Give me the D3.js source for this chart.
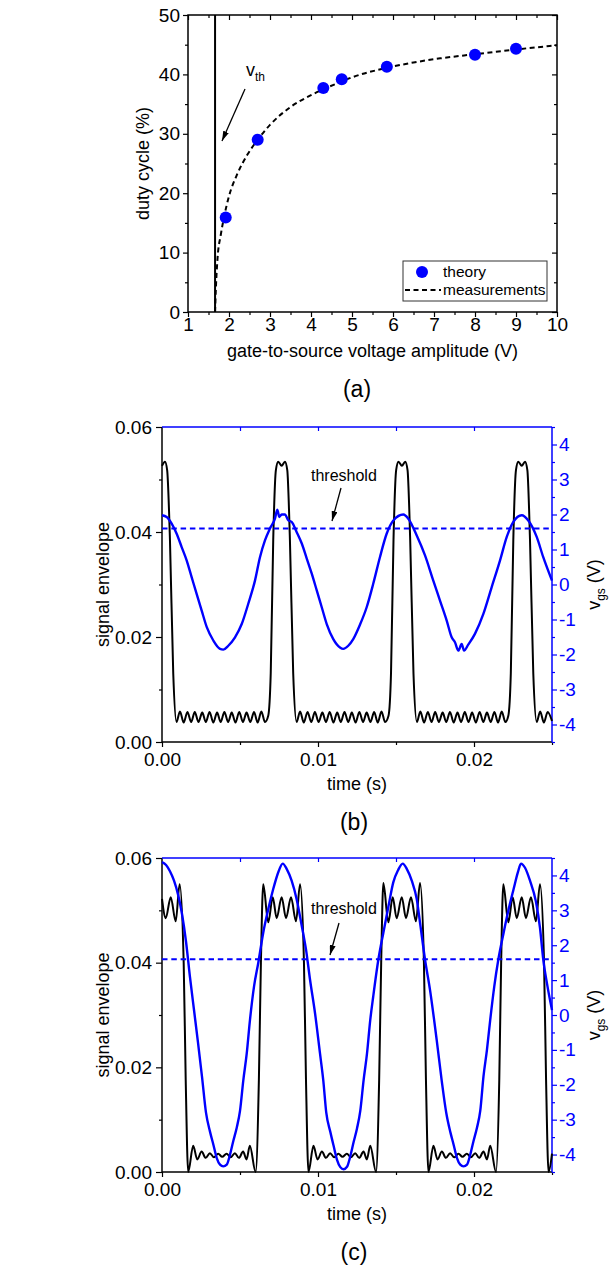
<!DOCTYPE html>
<html>
<head>
<meta charset="utf-8">
<script src="https://cdn.jsdelivr.net/npm/d3@7"></script>
<style>
  body { margin: 0; background: #fff; }
  svg { font-family: "Liberation Sans", Arial, sans-serif; }
</style>
</head>
<body>
<div class="chartHolder"></div>
<script>
// ---- panel (a) data ----
var theoryV = [1.92, 2.70, 4.30, 4.75, 5.85, 8.00, 9.00];
var theoryDuty = [15.9, 29.0, 37.7, 39.2, 41.3, 43.3, 44.3];
var measV = [1.66, 1.68, 1.72, 1.80, 1.88, 2.00, 2.20, 2.45, 2.70, 3.00, 3.50, 4.00, 4.30, 4.75, 5.00, 5.85, 6.50, 7.15, 8.00, 9.00, 10.00];
var measDuty = [0, 4.0, 9.0, 13.0, 16.0, 19.5, 23.2, 26.5, 29.0, 31.5, 34.5, 36.5, 37.5, 38.8, 39.5, 41.1, 42.0, 42.7, 43.4, 44.2, 44.9];
var vth = 1.66;
var ampTicks = [1, 2, 3, 4, 5, 6, 7, 8, 9, 10];
var dutyTicks = [0, 10, 20, 30, 40, 50];

// ---- panel (b) data ----
var envTimeB = [0, 0.00019, 0.00033, 0.00051, 0.00072, 0.00093,
  0.00115, 0.00139, 0.00163, 0.00187, 0.0021, 0.00234, 0.00258, 0.00281, 0.00305, 0.00329, 0.00353, 0.00376,
  0.004, 0.00424, 0.00447, 0.00471, 0.00495, 0.00519, 0.00542, 0.00566, 0.0059, 0.00613, 0.00637, 0.0066,
  0.00681, 0.00697, 0.00713, 0.0073, 0.00745, 0.00767, 0.00788, 0.00803, 0.0082, 0.00841, 0.00863,
  0.00885, 0.00909, 0.00933, 0.00957, 0.0098, 0.01004, 0.01028, 0.01051, 0.01075, 0.01099, 0.01123, 0.01146,
  0.0117, 0.01194, 0.01217, 0.01241, 0.01265, 0.01289, 0.01312, 0.01336, 0.0136, 0.01383, 0.01407, 0.0143,
  0.01452, 0.01468, 0.01484, 0.01501, 0.01516, 0.01538, 0.01559, 0.01574, 0.01591, 0.01612, 0.01634,
  0.01656, 0.0168, 0.01704, 0.01728, 0.01751, 0.01775, 0.01799, 0.01822, 0.01846, 0.0187, 0.01894, 0.01917,
  0.01941, 0.01965, 0.01988, 0.02012, 0.02036, 0.0206, 0.02083, 0.02107, 0.02131, 0.02154, 0.02178, 0.02201,
  0.0222, 0.02236, 0.02252, 0.02269, 0.02284, 0.02306, 0.02327, 0.02342, 0.02359, 0.0238, 0.02402,
  0.02424, 0.02448, 0.02472, 0.025];
var envB = [0.0526, 0.0534, 0.0518, 0.0385, 0.0131, 0.0038,
  0.0058, 0.0037, 0.0057, 0.0038, 0.0057, 0.0038, 0.0056, 0.0038, 0.0057, 0.0037, 0.0056, 0.0038,
  0.0057, 0.0038, 0.0056, 0.0037, 0.0057, 0.0038, 0.0056, 0.0038, 0.0057, 0.0037, 0.0058, 0.0038,
  0.0050, 0.0131, 0.0385, 0.0518, 0.0534, 0.0526, 0.0534, 0.0518, 0.0385, 0.0131, 0.0038,
  0.0058, 0.0037, 0.0057, 0.0038, 0.0057, 0.0038, 0.0056, 0.0038, 0.0057, 0.0037, 0.0056, 0.0038,
  0.0057, 0.0038, 0.0056, 0.0037, 0.0057, 0.0038, 0.0056, 0.0038, 0.0057, 0.0037, 0.0058, 0.0038,
  0.0050, 0.0131, 0.0385, 0.0518, 0.0534, 0.0526, 0.0534, 0.0518, 0.0385, 0.0131, 0.0038,
  0.0058, 0.0037, 0.0057, 0.0038, 0.0057, 0.0038, 0.0056, 0.0038, 0.0057, 0.0037, 0.0056, 0.0038,
  0.0057, 0.0038, 0.0056, 0.0037, 0.0057, 0.0038, 0.0056, 0.0038, 0.0057, 0.0037, 0.0058, 0.0038,
  0.0050, 0.0131, 0.0385, 0.0518, 0.0534, 0.0526, 0.0534, 0.0518, 0.0385, 0.0131, 0.0038,
  0.0058, 0.0037, 0.0057, 0.0040];
var vgsTimeB = [0, 0.0003, 0.00062, 0.00094, 0.00126, 0.00158, 0.0019, 0.00222, 0.00254, 0.00287, 0.00329,
  0.00372, 0.00393, 0.00425, 0.00468, 0.00511, 0.00553, 0.00596, 0.00628, 0.0066, 0.00692, 0.00724,
  0.00739, 0.00752, 0.00767, 0.00788, 0.0081, 0.00831, 0.00863, 0.00896, 0.00928, 0.0096, 0.00992,
  0.01024, 0.01056, 0.01098, 0.01141, 0.01162, 0.01194, 0.01226, 0.01269, 0.01312, 0.01354, 0.01397,
  0.0144, 0.01483, 0.01547, 0.01579, 0.01633, 0.01686, 0.01739, 0.01782, 0.01825, 0.01857, 0.01878,
  0.019, 0.01921, 0.01936, 0.01963, 0.02006, 0.0206, 0.02113, 0.02167, 0.0221, 0.02252, 0.02306,
  0.02348, 0.02402, 0.02444, 0.025];
var vgsB = [1.98, 1.93, 1.74, 1.45, 1.07, 0.69, 0.21, -0.27, -0.74, -1.22, -1.60,
  -1.84, -1.86, -1.75, -1.51, -1.13, -0.55, 0.11, 0.78, 1.26, 1.60, 1.88,
  2.14, 1.93, 2.0, 2.0, 1.83, 1.79, 1.50, 1.17, 0.74, 0.31, -0.17,
  -0.65, -1.13, -1.56, -1.80, -1.84, -1.75, -1.56, -1.15, -0.65, 0.02, 0.78,
  1.45, 1.83, 2.0, 1.88, 1.40, 0.83, 0.11, -0.46, -1.03, -1.51, -1.65,
  -1.89, -1.70, -1.89, -1.72, -1.41, -0.84, -0.08, 0.69, 1.36, 1.79, 1.98,
  1.83, 1.36, 0.78, 0.11];

// ---- panel (c) data ----
var envTimeC = [0, 0.00024, 0.00056, 0.00088, 0.00113, 0.00139, 0.00152, 0.00168,
  0.0020, 0.00226, 0.00254, 0.0028, 0.00307, 0.00333, 0.0036, 0.00386, 0.00414, 0.0044, 0.00467, 0.00493,
  0.0052, 0.00542, 0.00563, 0.0060, 0.00621, 0.00634,
  0.00649, 0.00681, 0.0071, 0.00735, 0.00767, 0.00795, 0.00827, 0.00859, 0.00885, 0.0091, 0.00923, 0.00939,
  0.00971, 0.00997, 0.01025, 0.01051, 0.01078, 0.01104, 0.01131, 0.01157, 0.01185, 0.01211, 0.01238, 0.01264,
  0.01292, 0.01313, 0.01335, 0.01372, 0.01392, 0.01405,
  0.01419, 0.01451, 0.01479, 0.01504, 0.01537, 0.01564, 0.01596, 0.01628, 0.01654, 0.01679, 0.01692, 0.01708,
  0.0174, 0.01766, 0.01794, 0.0182, 0.01847, 0.01873, 0.01901, 0.01926, 0.01954, 0.0198, 0.02008, 0.02033,
  0.02061, 0.02083, 0.02104, 0.02141, 0.02162, 0.02174,
  0.02188, 0.0222, 0.02248, 0.02274, 0.02306, 0.02333, 0.02365, 0.02397, 0.02423, 0.02449, 0.02462, 0.02478,
  0.025];
var envC = [0.0522, 0.0485, 0.0525, 0.0479, 0.0550, 0.0400, 0.0176, 0.0000,
  0.0050, 0.0024, 0.0039, 0.0027, 0.0036, 0.0028, 0.0035, 0.0029, 0.0035, 0.0028, 0.0036, 0.0027,
  0.0039, 0.0024, 0.0050, 0.0000, 0.0176, 0.0400,
  0.0550, 0.0477, 0.0525, 0.0485, 0.0525, 0.0485, 0.0525, 0.0479, 0.0550, 0.0400, 0.0176, 0.0000,
  0.0050, 0.0024, 0.0039, 0.0027, 0.0036, 0.0028, 0.0035, 0.0029, 0.0035, 0.0028, 0.0036, 0.0027,
  0.0039, 0.0024, 0.0050, 0.0000, 0.0176, 0.0400,
  0.0552, 0.0477, 0.0525, 0.0485, 0.0525, 0.0485, 0.0525, 0.0479, 0.0552, 0.0400, 0.0176, 0.0000,
  0.0050, 0.0024, 0.0039, 0.0027, 0.0036, 0.0028, 0.0035, 0.0029, 0.0035, 0.0028, 0.0036, 0.0027,
  0.0039, 0.0024, 0.0050, 0.0000, 0.0176, 0.0400,
  0.0550, 0.0477, 0.0525, 0.0485, 0.0525, 0.0485, 0.0525, 0.0479, 0.0550, 0.0400, 0.0176, 0.0000,
  0.0035];
var vgsTimeC = [0, 0.00026, 0.00051, 0.00077, 0.00103, 0.00128, 0.00154, 0.00179, 0.00205, 0.00231, 0.00256,
  0.00282, 0.00308, 0.00329, 0.00351, 0.00372, 0.00393, 0.00415, 0.00436, 0.00457, 0.00479, 0.005,
  0.00521, 0.00543, 0.00564, 0.0059, 0.00617, 0.00649, 0.00681, 0.00713, 0.00746, 0.00774, 0.00799,
  0.00831, 0.00863, 0.00896, 0.00923, 0.00949, 0.00981, 0.01013, 0.01034, 0.01053, 0.01079, 0.011,
  0.01122, 0.01143, 0.01164, 0.01186, 0.01207, 0.01228, 0.0125, 0.01271, 0.01292, 0.01314, 0.01335,
  0.01354, 0.01387, 0.01419, 0.01451, 0.01483, 0.01513, 0.01543, 0.01569, 0.01601, 0.01633, 0.01654,
  0.01686, 0.01718, 0.01761, 0.01793, 0.01822, 0.01848, 0.01869, 0.01891, 0.01912, 0.01933, 0.01955,
  0.01976, 0.01997, 0.02019, 0.0204, 0.02061, 0.02083, 0.02104, 0.0213, 0.02156, 0.0219, 0.02222,
  0.02254, 0.02282, 0.02301, 0.02327, 0.02359, 0.02397, 0.02423, 0.02444, 0.02468, 0.025];
var vgsC = [4.38, 4.30, 4.12, 3.85, 3.45, 2.90, 2.10, 1.10, 0.15, -0.80, -1.75,
  -2.80, -3.35, -3.71, -4.10, -4.29, -4.34, -4.29, -4.00, -3.61, -3.23, -2.75,
  -1.88, -1.11, -0.14, 0.82, 1.49, 2.36, 3.03, 3.61, 4.10, 4.34, 4.19,
  3.85, 3.32, 2.55, 1.88, 1.01, 0.05, -1.11, -1.88, -2.80, -3.35, -3.75,
  -4.15, -4.36, -4.42, -4.35, -4.05, -3.65, -3.25, -2.75, -1.88, -1.11, -0.14,
  0.53, 1.59, 2.36, 3.10, 3.81, 4.15, 4.34, 4.19, 3.85, 3.32, 2.65,
  1.59, 0.72, -0.72, -1.88, -2.80, -3.35, -3.71, -4.10, -4.29, -4.34, -4.29,
  -4.00, -3.61, -3.23, -2.75, -1.75, -1.00, -0.14, 0.82, 1.59, 2.36, 3.03,
  3.61, 4.10, 4.34, 4.22, 3.85, 3.25, 2.50, 1.59, 0.90, 0.14];

var threshold = 1.6;
var timeTicks = [0, 0.01, 0.02];
var timeMinor = [0.005, 0.015, 0.025];
var envTicks = [0, 0.02, 0.04, 0.06];
var envMinor = [0.01, 0.03, 0.05];
var vgsTicks = [-4, -3, -2, -1, 0, 1, 2, 3, 4];
var vgsMinor = [-4.5, -3.5, -2.5, -1.5, -0.5, 0.5, 1.5, 2.5, 3.5, 4.5];

var FONT = '"Liberation Sans", Arial, sans-serif';
var blue = "#0000ff";

var svg = d3.select(".chartHolder").append("svg").attr("width", 614).attr("height", 1272);

var defs = svg.append("defs");
defs.append("marker").attr("id", "arrow").attr("viewBox", "0 0 10 6")
  .attr("refX", 10).attr("refY", 3).attr("markerWidth", 10).attr("markerHeight", 6)
  .attr("markerUnits", "userSpaceOnUse").attr("orient", "auto")
  .append("path").attr("d", "M0,0 L10,3 L0,6 Z").attr("fill", "#000");

function zip(a, b) {
  return a.map(function (v, i) { return [v, b[i]]; });
}

function drawAxis(g, axis, color, size, hideText) {
  g.call(axis).attr("font-family", FONT).attr("font-size", size);
  g.select(".domain").remove();
  g.selectAll("line").attr("stroke", color).attr("stroke-width", 1.2);
  g.selectAll("text").attr("fill", color);
  if (hideText) g.selectAll("text").remove();
  return g;
}

// ================= (a) =================
var xA = d3.scaleLinear().domain([1, 10]).range([188, 557]);
var yA = d3.scaleLinear().domain([0, 50]).range([312, 15]);
var gA = svg.append("g");

drawAxis(gA.append("g").attr("transform", "translate(0," + yA(0) + ")"),
  d3.axisBottom(xA).tickValues(ampTicks).tickFormat(d3.format("d")).tickSize(5).tickPadding(1), "#000", 19);
drawAxis(gA.append("g").attr("transform", "translate(0," + yA(0) + ")"),
  d3.axisBottom(xA).tickValues(d3.range(1.5, 10, 1)).tickSize(3), "#000", 19, true);
drawAxis(gA.append("g").attr("transform", "translate(0," + yA(50) + ")"),
  d3.axisTop(xA).tickValues(ampTicks).tickSize(-5), "#000", 19, true);
drawAxis(gA.append("g").attr("transform", "translate(0," + yA(50) + ")"),
  d3.axisTop(xA).tickValues(d3.range(1.5, 10, 1)).tickSize(-3), "#000", 19, true);
drawAxis(gA.append("g").attr("transform", "translate(" + xA(1) + ",0)"),
  d3.axisLeft(yA).tickValues(dutyTicks).tickFormat(d3.format("d")).tickSize(5).tickPadding(3), "#000", 19);
drawAxis(gA.append("g").attr("transform", "translate(" + xA(1) + ",0)"),
  d3.axisLeft(yA).tickValues([5, 15, 25, 35, 45]).tickSize(3), "#000", 19, true);
drawAxis(gA.append("g").attr("transform", "translate(" + xA(10) + ",0)"),
  d3.axisRight(yA).tickValues(dutyTicks).tickSize(-5), "#000", 19, true);
drawAxis(gA.append("g").attr("transform", "translate(" + xA(10) + ",0)"),
  d3.axisRight(yA).tickValues([5, 15, 25, 35, 45]).tickSize(-3), "#000", 19, true);

gA.append("rect").attr("x", xA(1)).attr("y", yA(50))
  .attr("width", xA(10) - xA(1)).attr("height", yA(0) - yA(50))
  .attr("fill", "none").attr("stroke", "#000").attr("stroke-width", 1.5);

// threshold voltage line
gA.append("line").attr("x1", xA(vth)).attr("x2", xA(vth)).attr("y1", yA(0)).attr("y2", yA(50))
  .attr("stroke", "#000").attr("stroke-width", 2);

gA.append("path").datum(zip(measV, measDuty))
  .attr("d", d3.line().x(function (d) { return xA(d[0]); }).y(function (d) { return yA(d[1]); }).curve(d3.curveMonotoneX))
  .attr("fill", "none").attr("stroke", "#000").attr("stroke-width", 2).attr("stroke-dasharray", "5,3.5");

gA.selectAll("circle.theory").data(zip(theoryV, theoryDuty)).enter().append("circle")
  .attr("class", "theory")
  .attr("cx", function (d) { return xA(d[0]); }).attr("cy", function (d) { return yA(d[1]); })
  .attr("r", 6).attr("fill", blue);

// v_th annotation
var vthLabel = gA.append("text").attr("x", 246).attr("y", 76).attr("font-family", FONT).attr("font-size", 18);
vthLabel.append("tspan").text("v");
vthLabel.append("tspan").attr("font-size", 12).attr("dy", 5).text("th");
gA.append("line").attr("x1", 245).attr("y1", 89).attr("x2", 222).attr("y2", 141)
  .attr("stroke", "#000").attr("stroke-width", 1.3).attr("marker-end", "url(#arrow)");

// legend
var leg = gA.append("g");
leg.append("rect").attr("x", 403).attr("y", 261).attr("width", 144).attr("height", 40)
  .attr("fill", "#fff").attr("stroke", "#333").attr("stroke-width", 1);
leg.append("circle").attr("cx", 422).attr("cy", 272).attr("r", 6).attr("fill", blue);
leg.append("line").attr("x1", 405).attr("x2", 441).attr("y1", 290).attr("y2", 290)
  .attr("stroke", "#000").attr("stroke-width", 2).attr("stroke-dasharray", "5,3.5");
leg.append("text").attr("x", 443).attr("y", 277).attr("font-family", FONT).attr("font-size", 15.5).text("theory");
leg.append("text").attr("x", 443).attr("y", 295).attr("font-family", FONT).attr("font-size", 15.5).text("measurements");

gA.append("text").attr("x", (xA(1) + xA(10)) / 2).attr("y", 357).attr("text-anchor", "middle")
  .attr("font-family", FONT).attr("font-size", 18).text("gate-to-source voltage amplitude (V)");
gA.append("text").attr("transform", "translate(149," + ((yA(0) + yA(50)) / 2) + ") rotate(-90)")
  .attr("text-anchor", "middle").attr("font-family", FONT).attr("font-size", 18).text("duty cycle (%)");
svg.append("text").attr("x", 357).attr("y", 397).attr("text-anchor", "middle")
  .attr("font-family", FONT).attr("font-size", 23).text("(a)");

// ================= (b), (c) =================
function timePanel(top, bottom, envT, env, vT, vgs, thrTextY, arrow, label) {
  var x = d3.scaleLinear().domain([0, 0.025]).range([162, 552]);
  var yL = d3.scaleLinear().domain([0, 0.06]).range([bottom, top]);
  var yR = d3.scaleLinear().domain([-4.5, 4.5]).range([bottom, top]);
  var g = svg.append("g");

  drawAxis(g.append("g").attr("transform", "translate(0," + bottom + ")"),
    d3.axisBottom(x).tickValues(timeTicks).tickFormat(d3.format(".2f")).tickSize(5).tickPadding(6), "#000", 19);
  drawAxis(g.append("g").attr("transform", "translate(0," + bottom + ")"),
    d3.axisBottom(x).tickValues(timeMinor).tickSize(3), "#000", 19, true);
  drawAxis(g.append("g").attr("transform", "translate(0," + top + ")"),
    d3.axisTop(x).tickValues([0.005, 0.01, 0.015, 0.02]).tickSize(-4), blue, 19, true);
  drawAxis(g.append("g").attr("transform", "translate(162,0)"),
    d3.axisLeft(yL).tickValues(envTicks).tickFormat(d3.format(".2f")).tickSize(6).tickPadding(4), "#000", 19);
  drawAxis(g.append("g").attr("transform", "translate(162,0)"),
    d3.axisLeft(yL).tickValues(envMinor).tickSize(3), "#000", 19, true);
  drawAxis(g.append("g").attr("transform", "translate(552,0)"),
    d3.axisRight(yR).tickValues(vgsTicks).tickFormat(function (d) { return String(d); }).tickSize(5).tickPadding(2), blue, 19);
  drawAxis(g.append("g").attr("transform", "translate(552,0)"),
    d3.axisRight(yR).tickValues(vgsMinor).tickSize(3), blue, 19, true);

  // frame lines
  g.append("line").attr("x1", 162).attr("x2", 552).attr("y1", bottom).attr("y2", bottom).attr("stroke", "#000").attr("stroke-width", 1.5);
  g.append("line").attr("x1", 162).attr("x2", 162).attr("y1", bottom).attr("y2", top).attr("stroke", "#000").attr("stroke-width", 1.5);
  g.append("line").attr("x1", 162).attr("x2", 552).attr("y1", top).attr("y2", top).attr("stroke", blue).attr("stroke-width", 1.5);
  g.append("line").attr("x1", 552).attr("x2", 552).attr("y1", bottom).attr("y2", top).attr("stroke", blue).attr("stroke-width", 1.5);

  g.append("path").datum(zip(envT, env))
    .attr("d", d3.line().x(function (d) { return x(d[0]); }).y(function (d) { return yL(d[1]); }).curve(d3.curveMonotoneX))
    .attr("fill", "none").attr("stroke", "#000").attr("stroke-width", 2);
  g.append("path").datum(zip(vT, vgs))
    .attr("d", d3.line().x(function (d) { return x(d[0]); }).y(function (d) { return yR(d[1]); }).curve(d3.curveMonotoneX))
    .attr("fill", "none").attr("stroke", blue).attr("stroke-width", 2.4);

  g.append("line").attr("x1", x(0)).attr("x2", x(0.025)).attr("y1", yR(threshold)).attr("y2", yR(threshold))
    .attr("stroke", blue).attr("stroke-width", 2).attr("stroke-dasharray", "5.5,3.8");

  g.append("text").attr("x", 311).attr("y", thrTextY).attr("font-family", FONT).attr("font-size", 16).text("threshold");
  g.append("line").attr("x1", arrow[0]).attr("y1", arrow[1]).attr("x2", arrow[2]).attr("y2", arrow[3])
    .attr("stroke", "#000").attr("stroke-width", 1.3).attr("marker-end", "url(#arrow)");

  var mid = (top + bottom) / 2;
  g.append("text").attr("transform", "translate(109," + mid + ") rotate(-90)")
    .attr("text-anchor", "middle").attr("font-family", FONT).attr("font-size", 18).text("signal envelope");
  var vl = g.append("text").attr("transform", "translate(600," + mid + ") rotate(-90)")
    .attr("text-anchor", "middle").attr("font-family", FONT).attr("font-size", 18);
  vl.append("tspan").text("v");
  vl.append("tspan").attr("font-size", 12).attr("dy", 5).text("gs");
  vl.append("tspan").attr("dy", -5).text(" (V)");

  g.append("text").attr("x", 357).attr("y", bottom + 48).attr("text-anchor", "middle")
    .attr("font-family", FONT).attr("font-size", 18).text("time (s)");
  g.append("text").attr("x", 354).attr("y", bottom + 88).attr("text-anchor", "middle")
    .attr("font-family", FONT).attr("font-size", 23).text(label);
}

timePanel(427, 742, envTimeB, envB, vgsTimeB, vgsB, 481, [341, 488, 332, 521], "(b)");
timePanel(858, 1172, envTimeC, envC, vgsTimeC, vgsC, 914, [339, 923, 330, 955], "(c)");
</script>
</body>
</html>
